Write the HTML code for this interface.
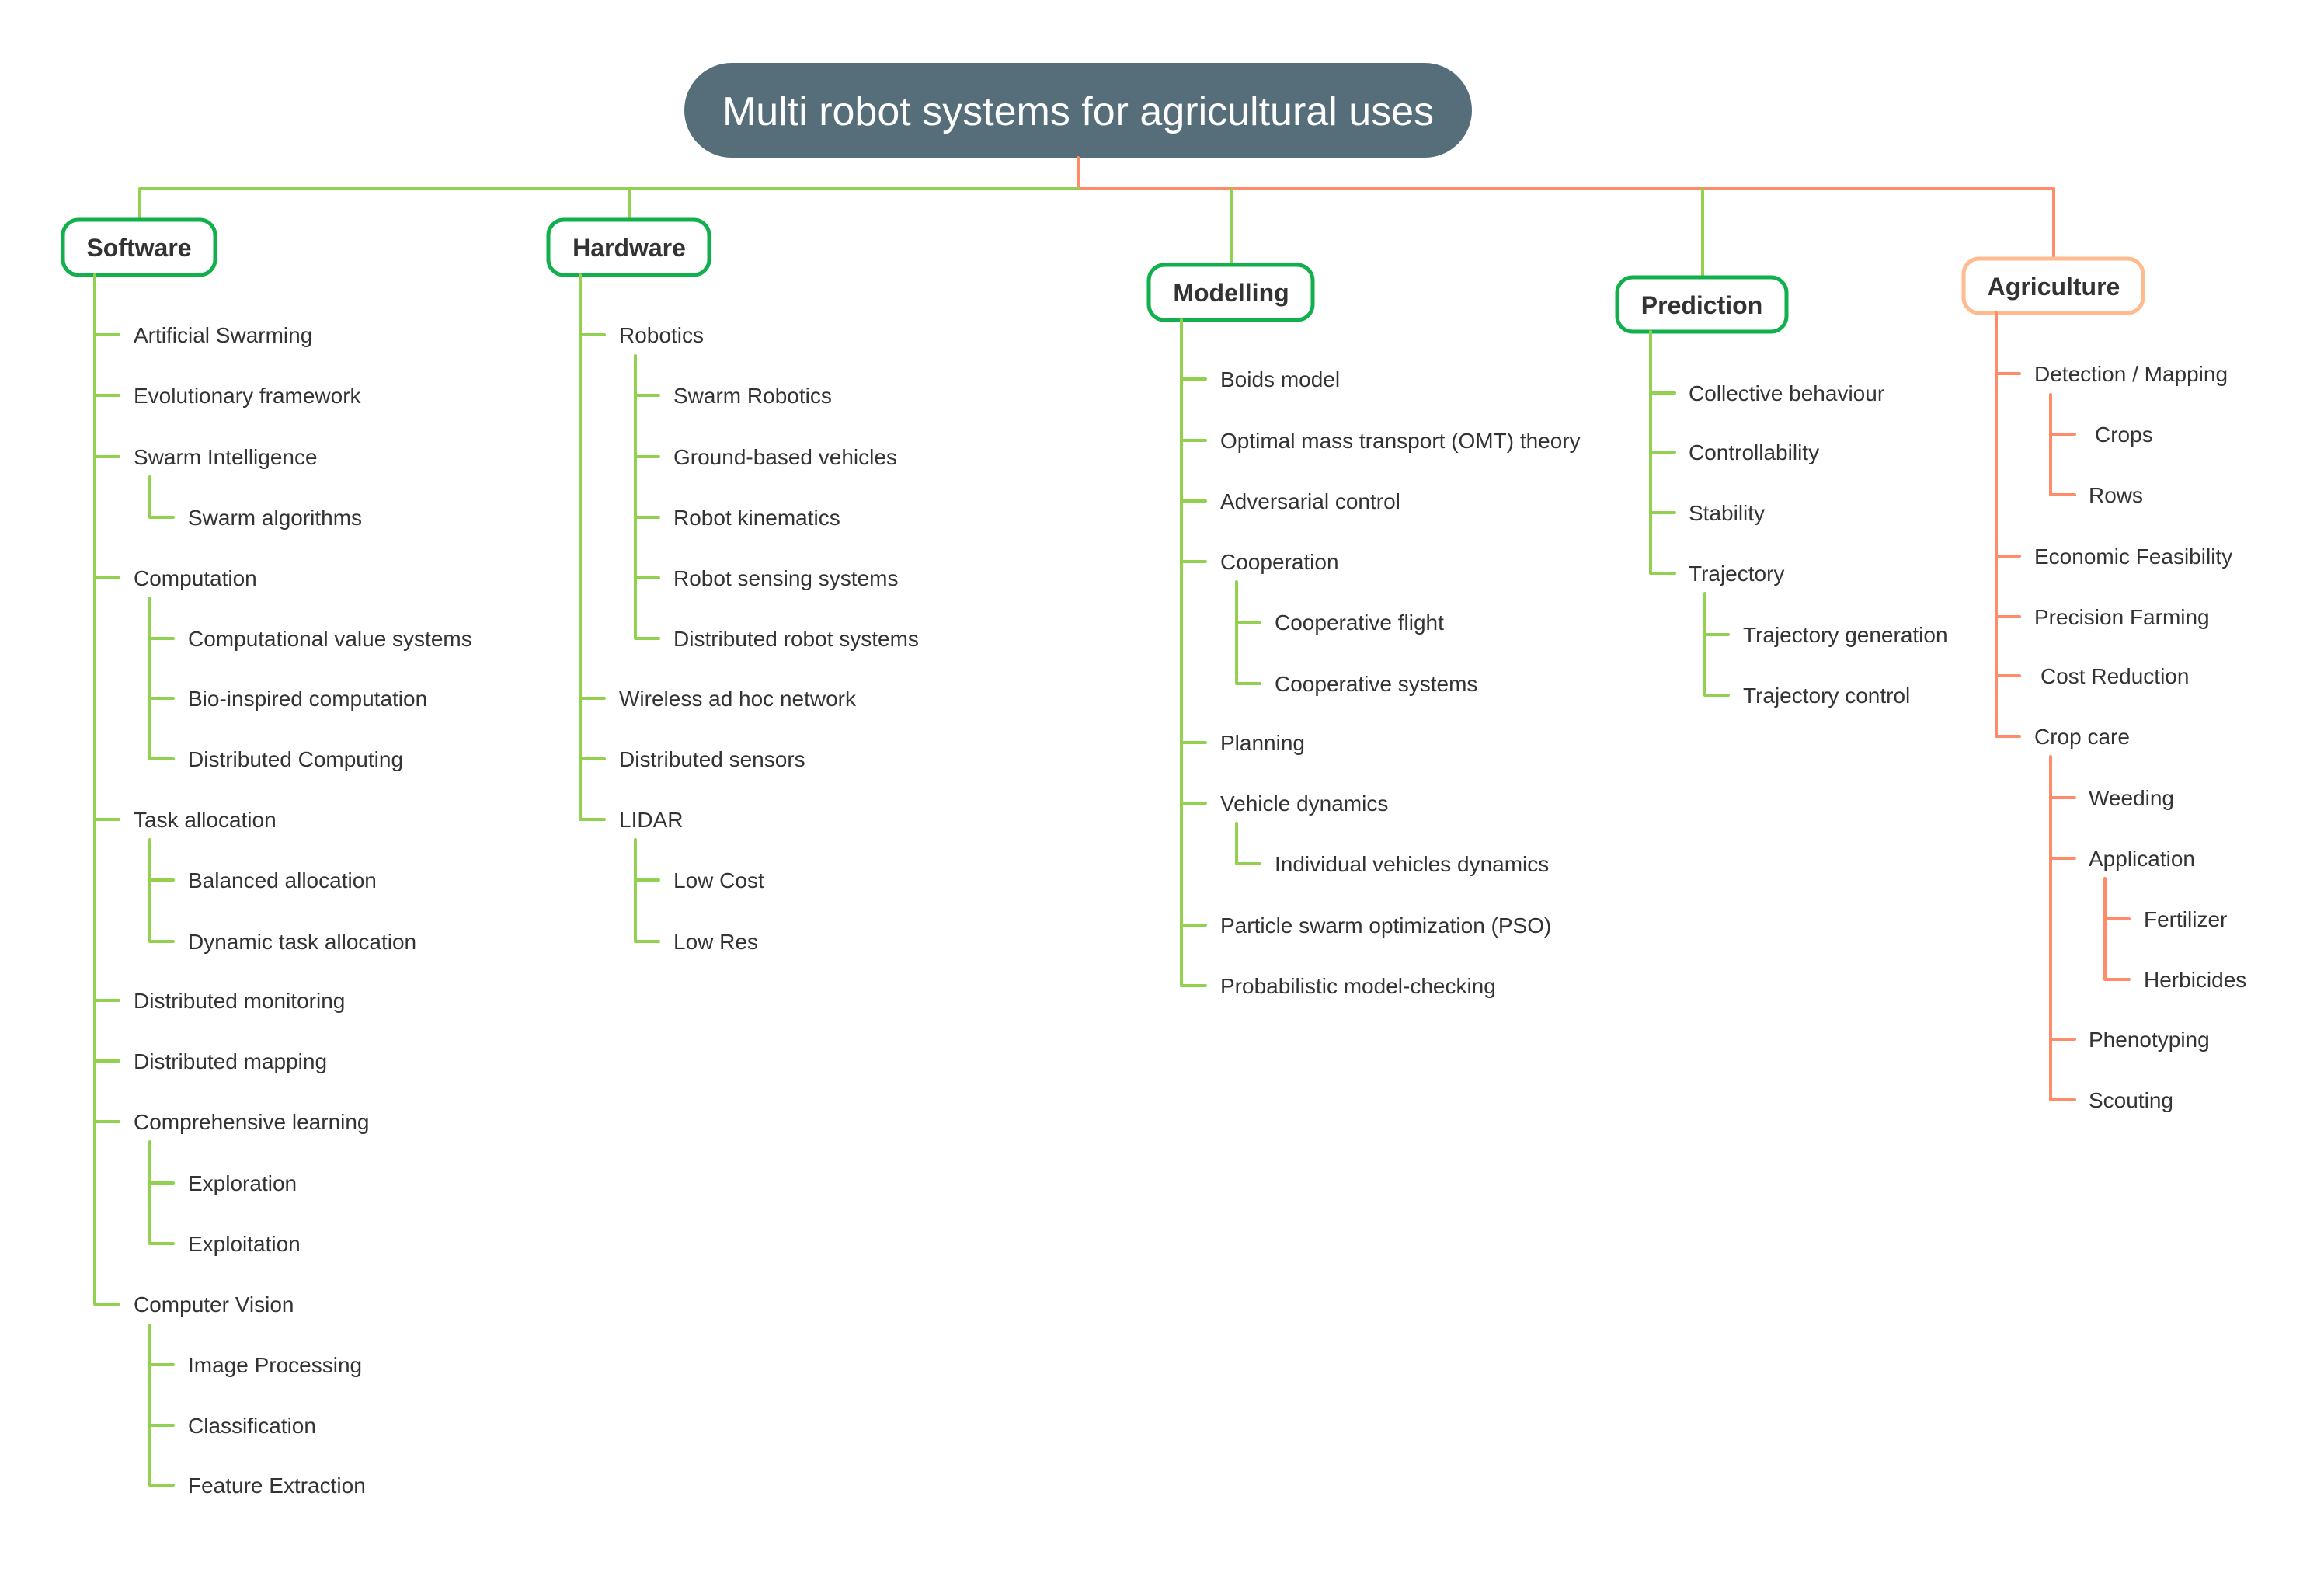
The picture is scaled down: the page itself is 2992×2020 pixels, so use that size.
<!DOCTYPE html>
<html><head><meta charset="utf-8"><style>html,body{margin:0;padding:0;background:#fff}svg{display:block}</style></head>
<body>
<svg xmlns="http://www.w3.org/2000/svg" width="2992" height="2020" viewBox="0 0 2992 2020">
<rect width="2992" height="2020" fill="#fff"/>
<!-- root -->
<rect x="881" y="81" width="1014" height="122" rx="61" fill="#566e79"/>
<text x="1388" y="161" font-family="Liberation Sans, sans-serif" font-size="52" fill="#fff" text-anchor="middle">Multi robot systems for agricultural uses</text>
<g fill="none" stroke-width="4" stroke-linecap="round" stroke-linejoin="round">
<path d="M1388 203 V243 H2644 V332" stroke="#ff8c69"/>
<path d="M1388 243 H180 V281 M811 243 V281 M1586 243 V339 M2192 243 V356" stroke="#92d050"/>
</g>
<!-- boxes -->
<g stroke-width="5" fill="#fff">
<rect x="81" y="283" width="196" height="71" rx="20" stroke="#12b04c"/>
<rect x="706" y="283" width="207" height="71" rx="20" stroke="#12b04c"/>
<rect x="1479" y="341" width="211" height="71" rx="20" stroke="#12b04c"/>
<rect x="2082" y="357" width="218" height="70" rx="20" stroke="#12b04c"/>
<rect x="2528" y="333" width="231" height="70" rx="20" stroke="#ffbb8f"/>
</g>
<g font-family="Liberation Sans, sans-serif" font-size="32" font-weight="bold" fill="#333" text-anchor="middle">
<text x="179" y="330">Software</text>
<text x="810" y="330">Hardware</text>
<text x="1585" y="388">Modelling</text>
<text x="2191" y="404">Prediction</text>
<text x="2644" y="380">Agriculture</text>
</g>
<!-- connectors -->
<g fill="none" stroke="#92d050" stroke-width="4" stroke-linecap="round" stroke-linejoin="round">
<path d="M122 354 V1679 H153 M122 431 H153 M122 509 H153 M122 588 H153 M122 744 H153 M122 1055 H153 M122 1288 H153 M122 1366 H153 M122 1444 H153"/>
<path d="M193 614 V666 H223"/>
<path d="M193 770 V977 H223 M193 822 H223 M193 899 H223"/>
<path d="M193 1081 V1212 H223 M193 1133 H223"/>
<path d="M193 1470 V1601 H223 M193 1523 H223"/>
<path d="M193 1706 V1912 H223 M193 1757 H223 M193 1835 H223"/>
<path d="M747 354 V1055 H778 M747 431 H778 M747 899 H778 M747 977 H778"/>
<path d="M818 458 V822 H848 M818 509 H848 M818 588 H848 M818 666 H848 M818 744 H848"/>
<path d="M818 1081 V1212 H848 M818 1133 H848"/>
<path d="M1521 412 V1269 H1552 M1521 488 H1552 M1521 567 H1552 M1521 645 H1552 M1521 723 H1552 M1521 956 H1552 M1521 1034 H1552 M1521 1191 H1552"/>
<path d="M1592 749 V880 H1622 M1592 801 H1622"/>
<path d="M1592 1060 V1112 H1622"/>
<path d="M2125 427 V738 H2156 M2125 506 H2156 M2125 582 H2156 M2125 660 H2156"/>
<path d="M2195 764 V895 H2225 M2195 817 H2225"/>
</g>
<g fill="none" stroke="#ff8c69" stroke-width="4" stroke-linecap="round" stroke-linejoin="round">
<path d="M2570 403 V948 H2600 M2570 481 H2600 M2570 716 H2600 M2570 794 H2600 M2570 870 H2600"/>
<path d="M2640 508 V637 H2671 M2640 559 H2671"/>
<path d="M2640 974 V1416 H2671 M2640 1027 H2671 M2640 1105 H2671 M2640 1338 H2671"/>
<path d="M2710 1131 V1261 H2741 M2710 1183 H2741"/>
</g>
<!-- labels -->
<g font-family="Liberation Sans, sans-serif" font-size="28" fill="#333">
<text x="172" y="441">Artificial Swarming</text>
<text x="172" y="519">Evolutionary framework</text>
<text x="172" y="598">Swarm Intelligence</text>
<text x="242" y="676">Swarm algorithms</text>
<text x="172" y="754">Computation</text>
<text x="242" y="832">Computational value systems</text>
<text x="242" y="909">Bio-inspired computation</text>
<text x="242" y="987">Distributed Computing</text>
<text x="172" y="1065">Task allocation</text>
<text x="242" y="1143">Balanced allocation</text>
<text x="242" y="1222">Dynamic task allocation</text>
<text x="172" y="1298">Distributed monitoring</text>
<text x="172" y="1376">Distributed mapping</text>
<text x="172" y="1454">Comprehensive learning</text>
<text x="242" y="1533">Exploration</text>
<text x="242" y="1611">Exploitation</text>
<text x="172" y="1689">Computer Vision</text>
<text x="242" y="1767">Image Processing</text>
<text x="242" y="1845">Classification</text>
<text x="242" y="1922">Feature Extraction</text>

<text x="797" y="441">Robotics</text>
<text x="867" y="519">Swarm Robotics</text>
<text x="867" y="598">Ground-based vehicles</text>
<text x="867" y="676">Robot kinematics</text>
<text x="867" y="754">Robot sensing systems</text>
<text x="867" y="832">Distributed robot systems</text>
<text x="797" y="909">Wireless ad hoc network</text>
<text x="797" y="987">Distributed sensors</text>
<text x="797" y="1065">LIDAR</text>
<text x="867" y="1143">Low Cost</text>
<text x="867" y="1222">Low Res</text>

<text x="1571" y="498">Boids model</text>
<text x="1571" y="577">Optimal mass transport (OMT) theory</text>
<text x="1571" y="655">Adversarial control</text>
<text x="1571" y="733">Cooperation</text>
<text x="1641" y="811">Cooperative flight</text>
<text x="1641" y="890">Cooperative systems</text>
<text x="1571" y="966">Planning</text>
<text x="1571" y="1044">Vehicle dynamics</text>
<text x="1641" y="1122">Individual vehicles dynamics</text>
<text x="1571" y="1201">Particle swarm optimization (PSO)</text>
<text x="1571" y="1279">Probabilistic model-checking</text>

<text x="2174" y="516">Collective behaviour</text>
<text x="2174" y="592">Controllability</text>
<text x="2174" y="670">Stability</text>
<text x="2174" y="748">Trajectory</text>
<text x="2244" y="827">Trajectory generation</text>
<text x="2244" y="905">Trajectory control</text>

<text x="2619" y="491">Detection / Mapping</text>
<text x="2697" y="569">Crops</text>
<text x="2689" y="647">Rows</text>
<text x="2619" y="726">Economic Feasibility</text>
<text x="2619" y="804">Precision Farming</text>
<text x="2627" y="880">Cost Reduction</text>
<text x="2619" y="958">Crop care</text>
<text x="2689" y="1037">Weeding</text>
<text x="2689" y="1115">Application</text>
<text x="2760" y="1193">Fertilizer</text>
<text x="2760" y="1271">Herbicides</text>
<text x="2689" y="1348">Phenotyping</text>
<text x="2689" y="1426">Scouting</text>
</g>
</svg>
</body></html>
